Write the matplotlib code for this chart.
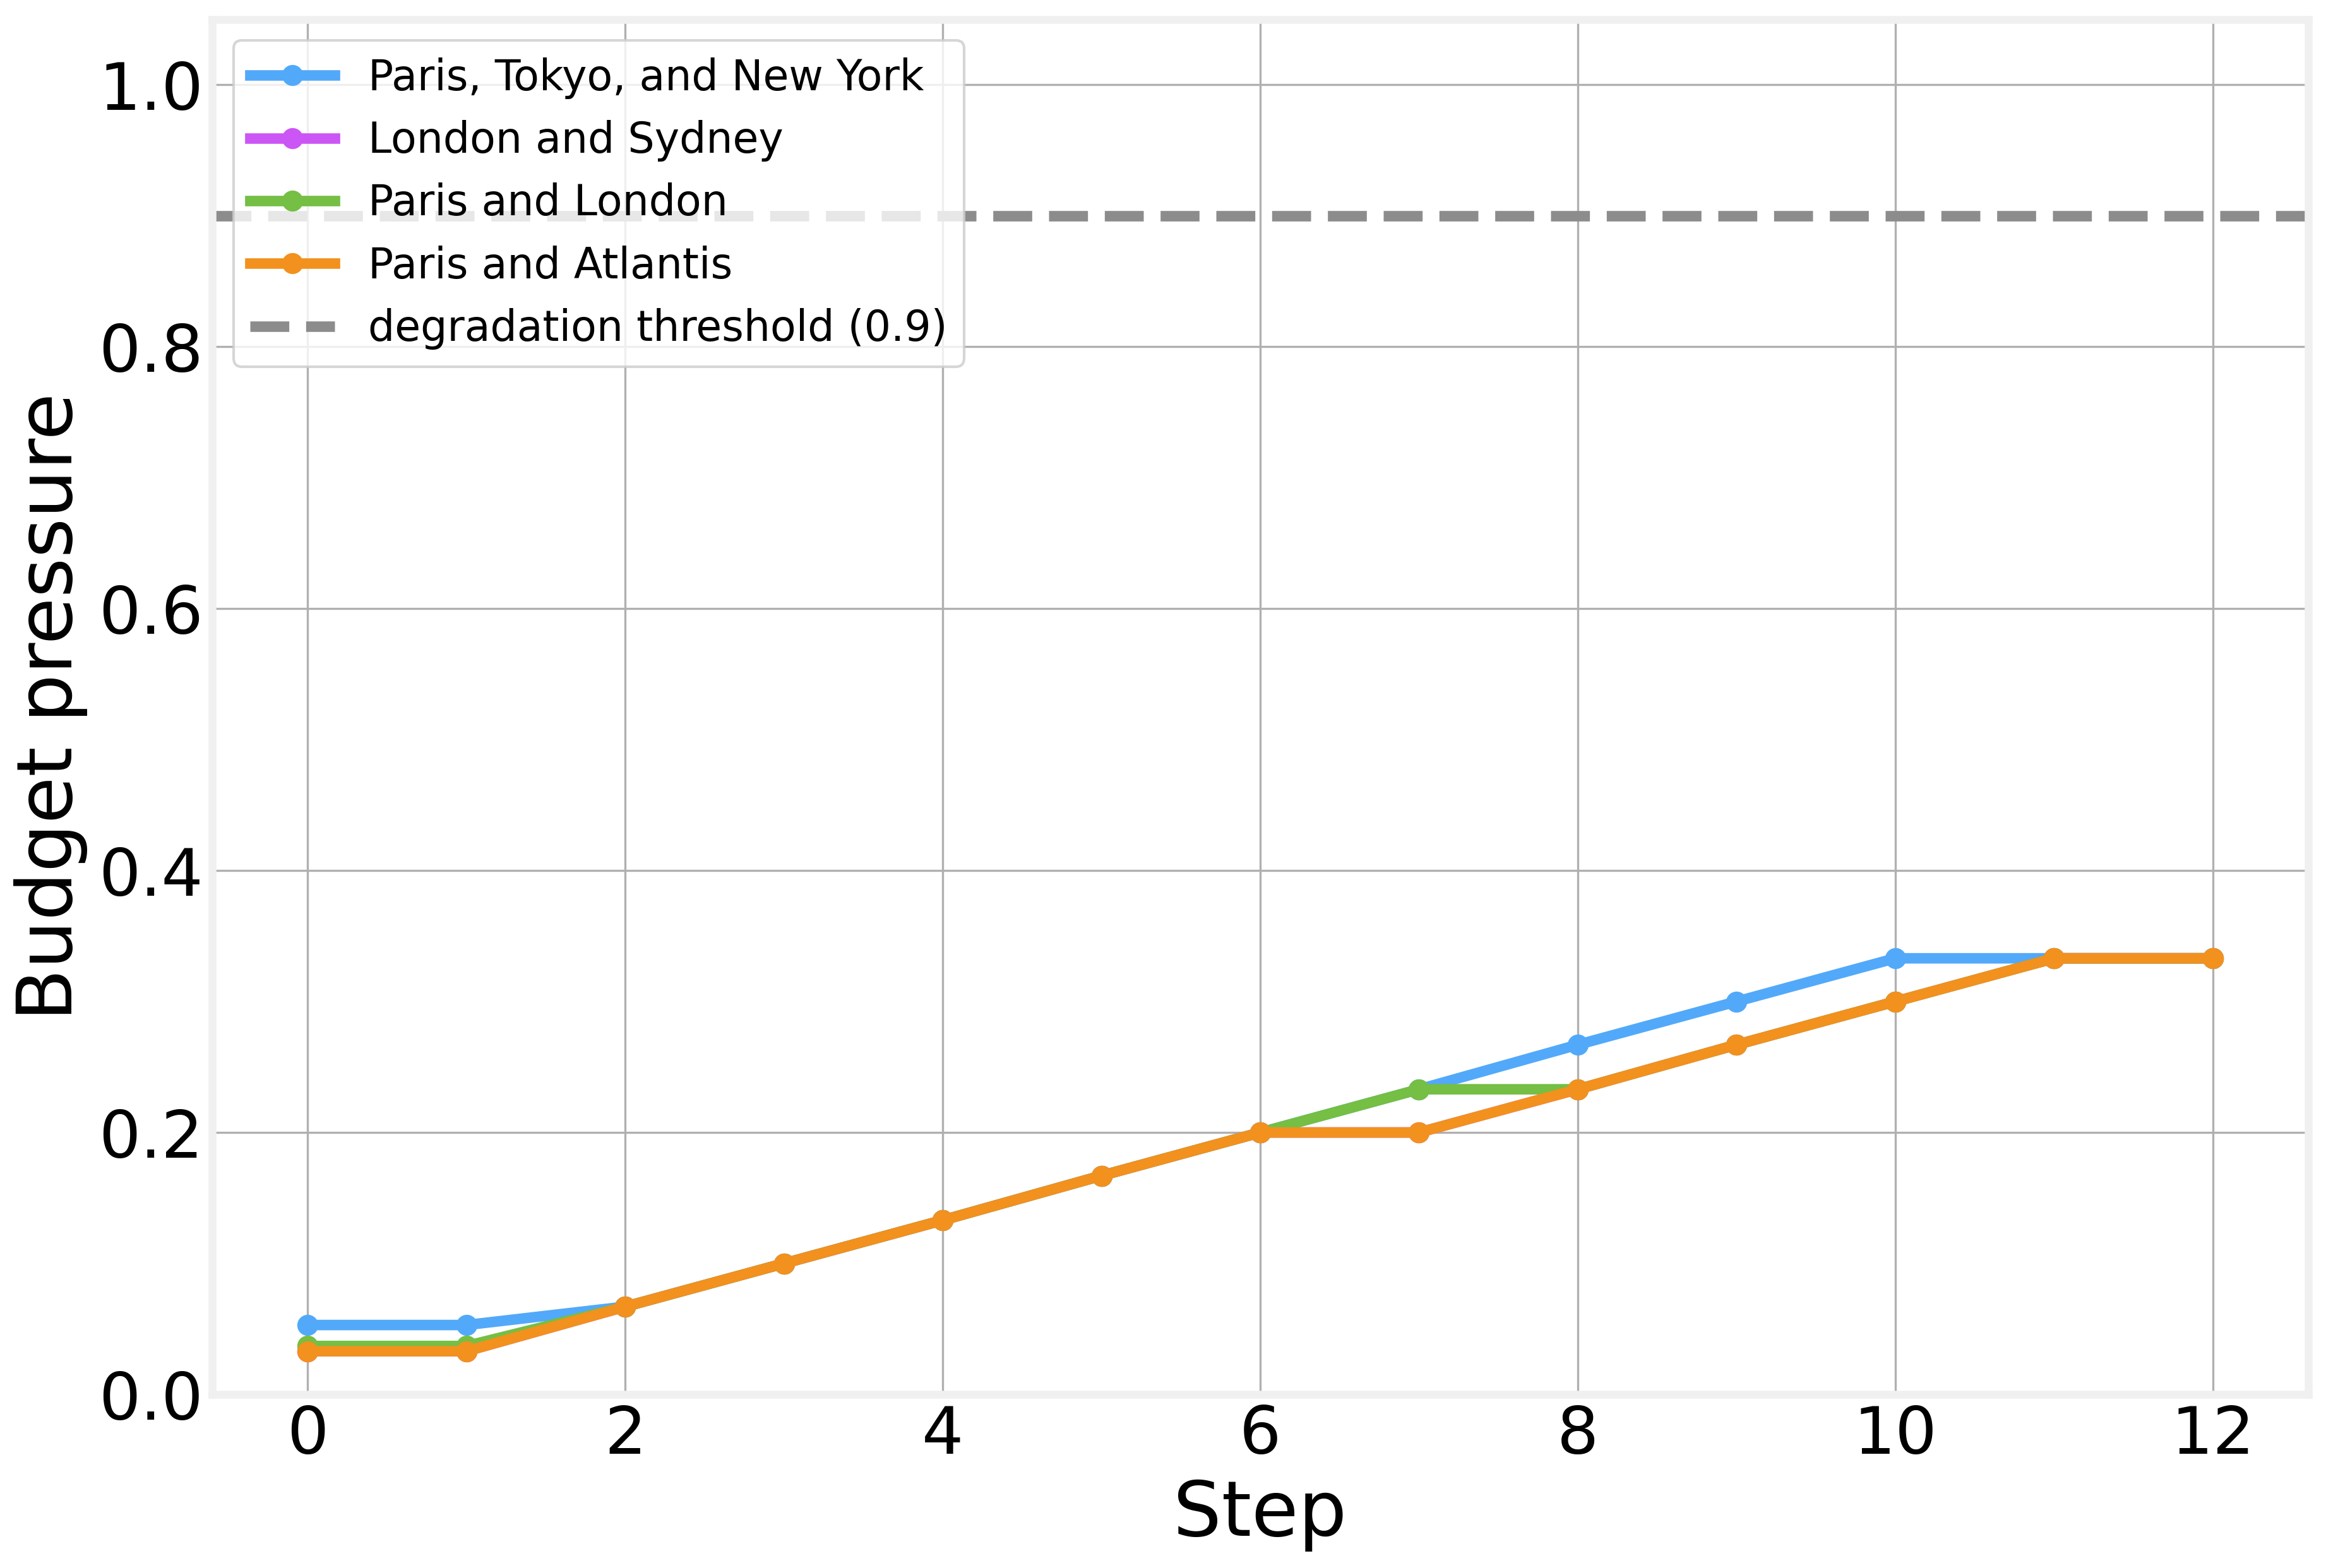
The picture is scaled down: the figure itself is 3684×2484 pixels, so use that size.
import matplotlib
matplotlib.use("Agg")
import matplotlib.pyplot as plt

# data
steps = list(range(13))
series_names = ["Paris, Tokyo, and New York", "London and Sydney",
                "Paris and London", "Paris and Atlantis"]
paris_tokyo_ny = [0.053, 0.053, 0.067, 0.100, 0.133, 0.167, 0.200,
                  0.233, 0.267, 0.300, 0.333, 0.333, 0.333]
london_sydney = [0.033, 0.033, 0.067, 0.100, 0.133, 0.167, 0.200,
                 0.200, 0.233, 0.267, 0.300, 0.333, 0.333]
paris_london = [0.037, 0.037, 0.067, 0.100, 0.133, 0.167, 0.200,
                0.233, 0.233, 0.267, 0.300, 0.333, 0.333]
paris_atlantis = [0.033, 0.033, 0.067, 0.100, 0.133, 0.167, 0.200,
                  0.200, 0.233, 0.267, 0.300, 0.333, 0.333]
threshold = 0.9

colors = ["#52a9f9", "#cc55f5", "#74bf44", "#f2911d"]

fig = plt.figure(figsize=(12.28, 8.28), dpi=300)
ax = fig.add_axes([0.0913, 0.1107, 0.9010, 0.8770])

for name, vals, c in zip(series_names,
                         [paris_tokyo_ny, london_sydney, paris_london, paris_atlantis],
                         colors):
    ax.plot(steps, vals, color=c, linewidth=4, marker="o", markersize=7,
            label=name)

ax.axhline(threshold, color="#8c8c8c", linestyle="--", linewidth=4,
           label="degradation threshold (0.9)")

ax.set_xlim(-0.6, 12.6)
ax.set_ylim(0, 1.05)
ax.set_xticks([0, 2, 4, 6, 8, 10, 12])
ax.set_yticks([0.0, 0.2, 0.4, 0.6, 0.8, 1.0])
ax.grid(True, color="#b0b0b0", linewidth=0.8)
ax.set_axisbelow(True)
ax.tick_params(length=0, labelsize=25, pad=3.5)
for s in ax.spines.values():
    s.set_color("#f0f0f0")
    s.set_linewidth(3)

ax.set_xlabel("Step", fontsize=29)
ax.set_ylabel("Budget pressure", fontsize=29)
ax.legend(loc="upper left", fontsize=16)

fig.savefig("out.png", dpi=300)
